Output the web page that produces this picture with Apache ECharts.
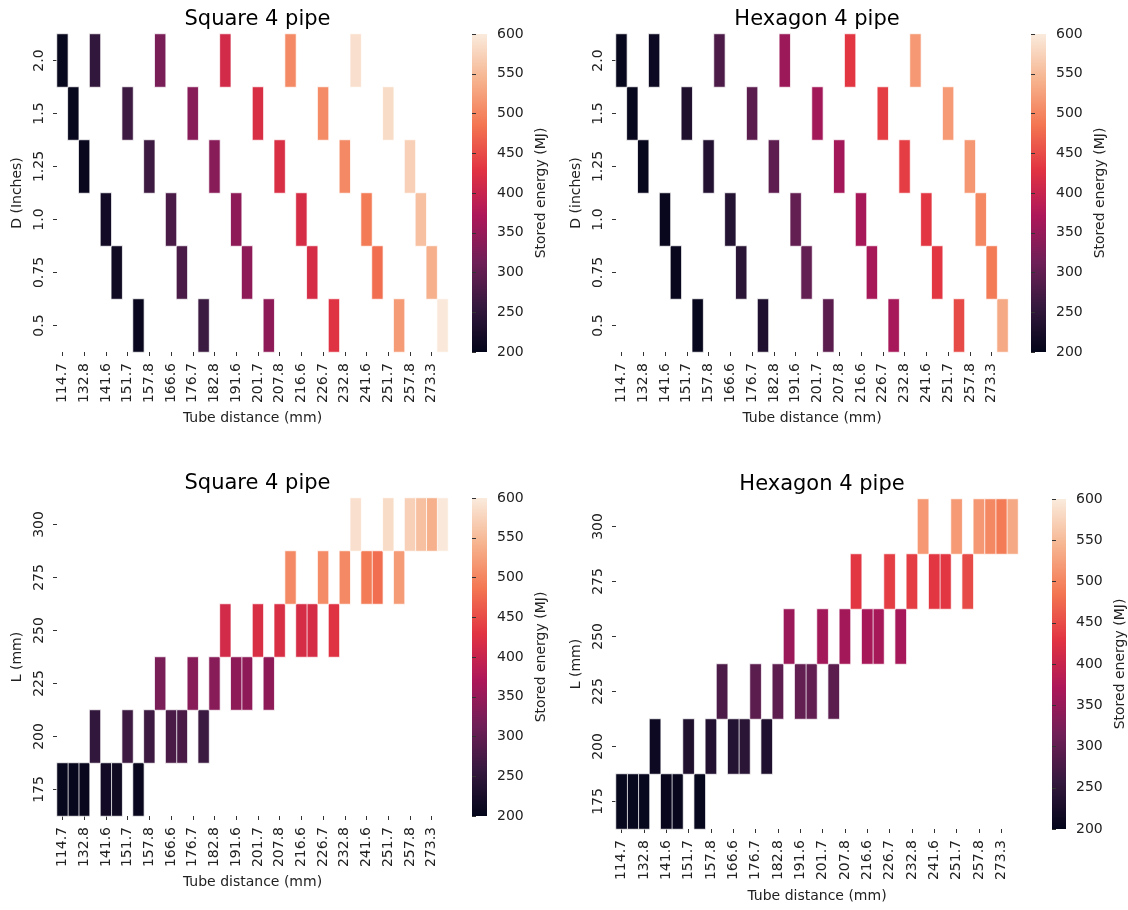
<!DOCTYPE html>
<html>
<head>
<meta charset="utf-8">
<script src="https://cdn.jsdelivr.net/npm/echarts@6/dist/echarts.min.js"></script>
<style>
html,body{margin:0;padding:0;background:#fff;}
#chart{width:1128px;height:910px;}
</style>
</head>
<body>
<div id="chart"></div>
<script>
// ---- data ----
// x categories: tube distance (mm), left to right
const tubeDistance = ['114.7','126.7','132.8','139.7','141.6','148.3','151.7','153.7','157.8','164.7','166.6','173.3','176.7','178.7','182.8','189.7','191.6','198.3','201.7','203.7','207.8','214.7','216.6','223.3','226.7','228.7','232.8','239.7','241.6','248.3','251.7','253.7','257.8','266.6','273.3','278.7'];
// pipe diameters (inches), bottom to top
const dValues = ['0.5','0.75','1.0','1.25','1.5','2.0'];
// lengths L (mm), bottom to top
const lValues = ['175','200','225','250','275','300'];
// tube distance for each L (rows) and D (columns in dValues order)
const tubeByLD = [
  ['153.7','148.3','141.6','132.8','126.7','114.7'],
  ['178.7','173.3','166.6','157.8','151.7','139.7'],
  ['203.7','198.3','191.6','182.8','176.7','164.7'],
  ['228.7','223.3','216.6','207.8','201.7','189.7'],
  ['253.7','248.3','241.6','232.8','226.7','214.7'],
  ['278.7','273.3','266.6','257.8','251.7','239.7']
];
// stored energy (MJ), rows = L, columns = D (dValues order)
const squareEnergy = [
  [207, 215, 218, 207, 205, 205],
  [263, 277, 277, 265, 265, 252],
  [342, 342, 342, 336, 336, 323],
  [426, 416, 416, 420, 420, 412],
  [520, 480, 490, 504, 506, 504],
  [598, 540, 555, 572, 584, 588]
];
const hexagonEnergy = [
  [205, 207, 207, 205, 205, 205],
  [231, 245, 239, 235, 232, 212],
  [294, 302, 302, 297, 294, 279],
  [365, 366, 366, 362, 362, 355],
  [449, 432, 432, 438, 438, 431],
  [533, 490, 502, 516, 519, 517]
];
const colorTicks = [200, 250, 300, 350, 400, 450, 500, 550, 600];
const rocket = ['#03051a','#35193e','#701f57','#ad1759','#e13342','#f37651','#f6b48f','#faebdd'];

// ---- build ----
const FONT = 'DejaVu Sans';
function byD(energy) {
  const out = [];
  lValues.forEach((l, li) => dValues.forEach((d, di) => {
    out.push([tubeDistance.indexOf(tubeByLD[li][di]), di, energy[li][di]]);
  }));
  return out;
}
function byL(energy) {
  const out = [];
  lValues.forEach((l, li) => dValues.forEach((d, di) => {
    out.push([tubeDistance.indexOf(tubeByLD[li][di]), li, energy[li][di]]);
  }));
  return out;
}

const panels = [
  {title: 'Square 4 pipe', yName: 'D (Inches)', yCats: dValues, data: byD(squareEnergy), xGap: 59,
   grid: {left: 57, top: 34, width: 391, height: 318}, cbar: {left: 472, top: 34, width: 15, height: 318}},
  {title: 'Hexagon 4 pipe', yName: 'D (inches)', yCats: dValues, data: byD(hexagonEnergy), xGap: 59,
   grid: {left: 616, top: 34, width: 392, height: 318}, cbar: {left: 1031, top: 34, width: 15, height: 318}},
  {title: 'Square 4 pipe', yName: 'L (mm)', yCats: lValues, data: byL(squareEnergy), xGap: 59,
   grid: {left: 57, top: 498, width: 391, height: 318}, cbar: {left: 472, top: 498, width: 15, height: 318}},
  {title: 'Hexagon 4 pipe', yName: 'L (mm)', yCats: lValues, data: byL(hexagonEnergy), xGap: 60,
   grid: {left: 616, top: 499, width: 402, height: 330}, cbar: {left: 1052, top: 499, width: 15, height: 330}}
];

const gradStops = rocket.map((c, i) => ({offset: 1 - i / (rocket.length - 1), color: c}));
const option = {
  backgroundColor: '#fff',
  animation: false,
  textStyle: {fontFamily: FONT},
  title: [], grid: [], xAxis: [], yAxis: [], series: [],
  visualMap: {
    show: false, type: 'continuous', min: 200, max: 600,
    seriesIndex: [0, 1, 2, 3], inRange: {color: rocket}
  }
};

panels.forEach((p, i) => {
  option.title.push({
    text: p.title, left: p.grid.left + p.grid.width / 2, top: p.grid.top - 30, textAlign: 'center',
    textStyle: {fontFamily: FONT, fontSize: 21, fontWeight: 'normal', color: '#000'}
  });
  option.grid.push(Object.assign({containLabel: false}, p.grid));
  option.xAxis.push({
    type: 'category', gridIndex: i, data: tubeDistance,
    name: 'Tube distance (mm)', nameLocation: 'middle', nameGap: p.xGap,
    nameTextStyle: {fontFamily: FONT, fontSize: 14, color: '#222'},
    axisLine: {show: false},
    axisTick: {show: true, interval: 1, alignWithLabel: true, length: 4, lineStyle: {color: '#333', width: 1}},
    axisLabel: {interval: 1, rotate: 90, fontSize: 14, color: '#222', fontFamily: FONT, margin: 11},
    splitLine: {show: false}
  });
  option.yAxis.push({
    type: 'category', gridIndex: i, data: p.yCats,
    name: p.yName, nameLocation: 'middle', nameGap: 33, nameRotate: 90,
    nameTextStyle: {fontFamily: FONT, fontSize: 14, color: '#222'},
    axisLine: {show: false},
    axisTick: {show: true, alignWithLabel: true, length: 4, lineStyle: {color: '#333', width: 1}},
    axisLabel: {rotate: 90, fontSize: 14, color: '#222', fontFamily: FONT, margin: 11},
    splitLine: {show: false}
  });
  option.series.push({
    type: 'heatmap', xAxisIndex: i, yAxisIndex: i, data: p.data,
    itemStyle: {borderColor: 'rgba(255,255,255,0.75)', borderWidth: 1},
    emphasis: {disabled: true}
  });
});

// colorbars
panels.forEach((p, i) => {
  const gi = panels.length + i;
  option.grid.push(Object.assign({
    show: true, borderWidth: 0, containLabel: false,
    backgroundColor: {type: 'linear', x: 0, y: 0, x2: 0, y2: 1, colorStops: gradStops}
  }, p.cbar));
  option.xAxis.push({type: 'value', gridIndex: gi, show: false, min: 0, max: 1});
  option.yAxis.push({
    type: 'value', gridIndex: gi, position: 'right',
    min: colorTicks[0], max: colorTicks[colorTicks.length - 1], interval: colorTicks[1] - colorTicks[0],
    name: 'Stored energy (MJ)', nameLocation: 'middle', nameGap: 47, nameRotate: 90,
    nameTextStyle: {fontFamily: FONT, fontSize: 14, color: '#222'},
    axisLine: {show: false},
    axisTick: {show: true, length: 4, lineStyle: {color: '#333', width: 1}},
    axisLabel: {fontSize: 14, color: '#222', fontFamily: FONT, margin: 10},
    splitLine: {show: false}
  });
});

const chart = echarts.init(document.getElementById('chart'), null, {renderer: 'canvas'});
chart.setOption(option);
</script>
</body>
</html>
